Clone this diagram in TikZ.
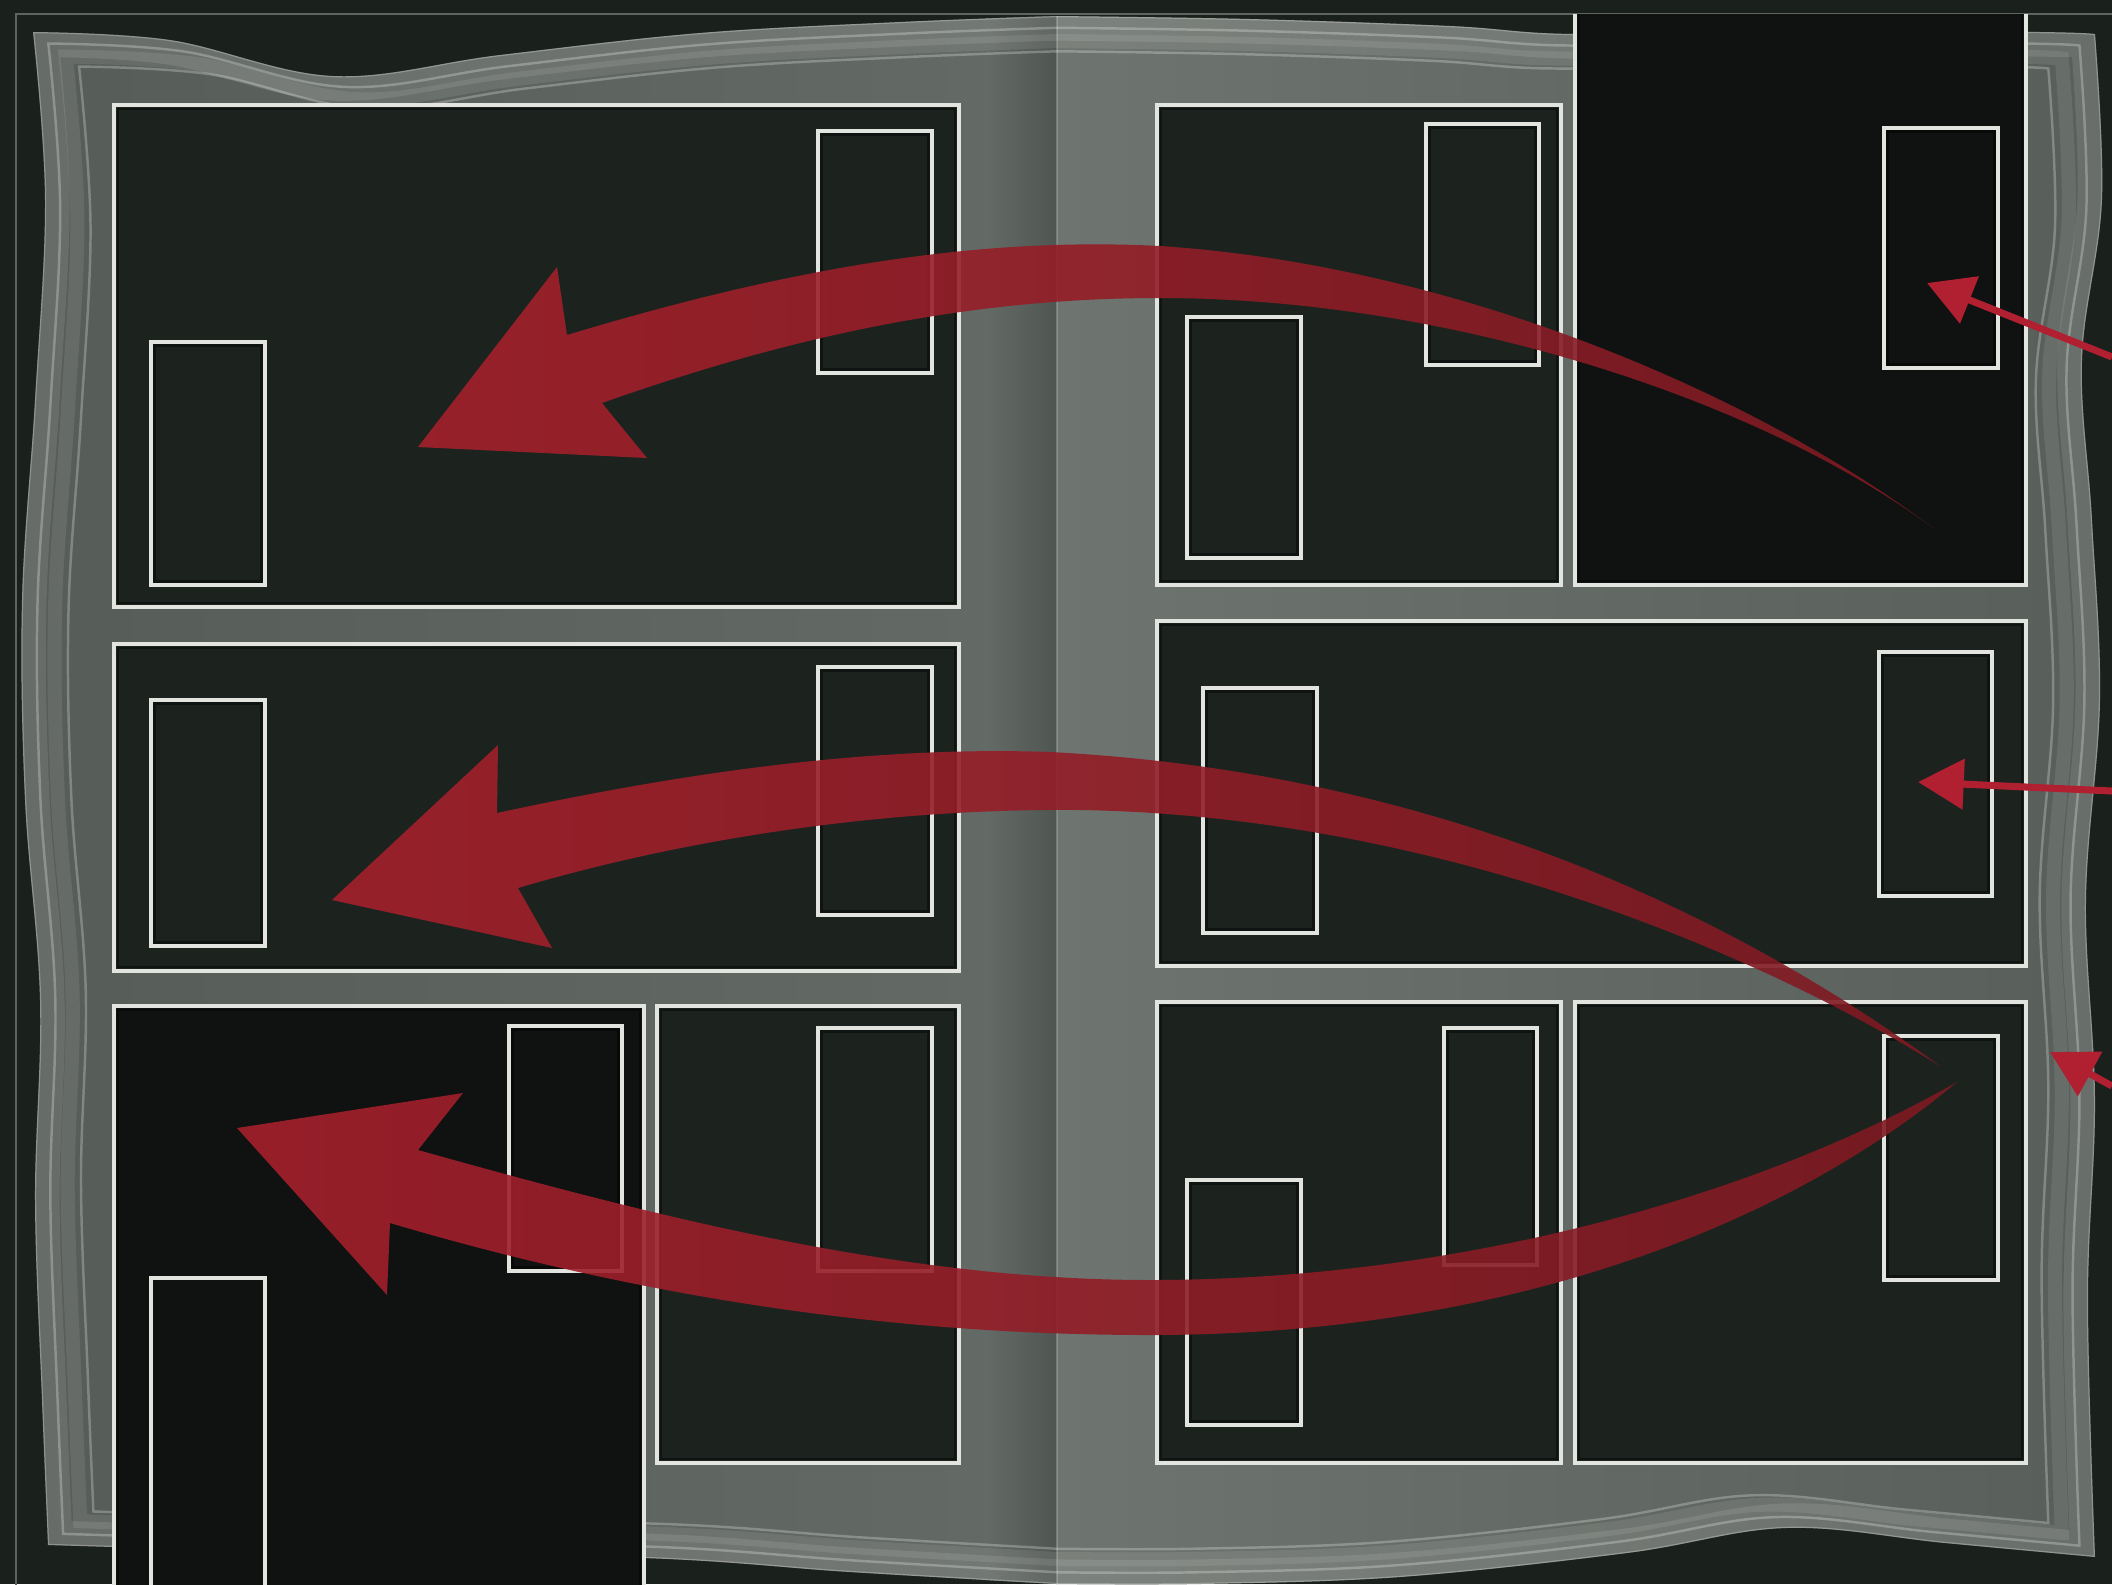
\documentclass[tikz,border=0pt]{standalone}
\usetikzlibrary{arrows.meta}
\definecolor{bg}{HTML}{1A201C}
\definecolor{panelfill}{HTML}{1C231F}
\definecolor{paneldark}{HTML}{0F1211}
\definecolor{panelline}{HTML}{E2E4E0}
\definecolor{pageA}{HTML}{565C58}
\definecolor{pageB}{HTML}{646A66}
\definecolor{pageC}{HTML}{6E746F}
\definecolor{pageD}{HTML}{585E5A}
\definecolor{spinedark}{HTML}{4F5551}
\definecolor{redhead}{HTML}{A5202C}
\definecolor{redtail}{HTML}{7E1A22}
\definecolor{redsmall}{HTML}{B02030}
\definecolor{framegrey}{HTML}{5E6460}

\def\LeftOutline{plot[smooth,tension=0.6] coordinates {(1057,16) (900,22) (700,33) (500,55) (333,76) (170,40) (33,32)} -- plot[smooth,tension=0.6] coordinates {(33,32) (45,200) (35,400) (22,600) (25,800) (40,1000) (35,1200) (42,1400) (48,1545)} -- plot[smooth,tension=0.6] coordinates {(48,1545) (300,1552) (644,1558) (850,1572) (1057,1584)}}
\def\RightOutline{plot[smooth,tension=0.6] coordinates {(1057,16) (1250,19) (1450,26) (1575,34) (1800,30) (2040,32) (2095,34)} -- plot[smooth,tension=0.6] coordinates {(2095,34) (2102,200) (2082,360) (2092,520) (2100,700) (2086,900) (2095,1100) (2088,1300) (2095,1557)} -- plot[smooth,tension=0.6] coordinates {(2095,1557) (1945,1543) (1786,1528) (1627,1553) (1400,1577) (1200,1584) (1057,1584)}}

\newcommand\mkpanel[5]{%
  \draw[#5] (#1,#2) rectangle (#3,#4);
  \draw[innershadow] (#1+4,#2+4) rectangle (#3-4,#4-4);}
\newcommand\mkinner[4]{%
  \draw[innerbox] (#1,#2) rectangle (#3,#4);
  \draw[innershadow] (#1+3.5,#2+3.5) rectangle (#3-3.5,#4-3.5);}

\begin{document}
\begin{tikzpicture}[x=0.01cm,y=-0.01cm,
  panelbox/.style={fill=panelfill, draw=panelline, line width=1.15pt},
  darkbox/.style={fill=paneldark},
  darkedge/.style={draw=panelline, line width=1.15pt},
  innerbox/.style={draw=panelline, line width=0.95pt},
  innershadow/.style={draw=black, opacity=0.45, line width=0.8pt},
  bigarrow/.style={left color=redhead, right color=redtail, fill opacity=0.9},
  smallarrow/.style={draw=redsmall, line width=2pt, -{Triangle[length=13pt,width=14pt]}},
  sheetline/.style={draw=white, line width=0.7pt, opacity=0.26},
  sheetband/.style={draw=white, line width=4pt, opacity=0.09},
]
\useasboundingbox (0,0) rectangle (2112,1584);
\clip (0,0) rectangle (2112,1584);
\fill[bg] (0,0) rectangle (2112,1584);
% outer frame line
\draw[framegrey, line width=0.6pt] (16,1590) -- (16,14) -- (2112,14);

% ---- pages ----
\shade[left color=pageA, right color=pageB] \LeftOutline -- cycle;
\shade[left color=pageC, right color=pageD] \RightOutline -- cycle;
\begin{scope}
  \clip \LeftOutline -- cycle;
  \shade[left color=pageB, right color=spinedark] (985,0) rectangle (1057,1584);
  \draw[white, opacity=0.10, line width=14pt] \LeftOutline;
  \draw[sheetline] \LeftOutline;
  \begin{scope}[shift={(1057,800)}, xscale=0.985, yscale=0.985, shift={(-1057,-800)}]
    \draw[sheetline] \LeftOutline;
  \end{scope}
  \begin{scope}[shift={(1057,800)}, xscale=0.968, yscale=0.968, shift={(-1057,-800)}]
    \draw[sheetband] \LeftOutline;
  \end{scope}
  \begin{scope}[shift={(1057,800)}, xscale=0.955, yscale=0.955, shift={(-1057,-800)}]
    \draw[sheetline] \LeftOutline;
  \end{scope}
\end{scope}
\begin{scope}
  \clip \RightOutline -- cycle;
  \draw[white, opacity=0.10, line width=14pt] \RightOutline;
  \draw[sheetline] \RightOutline;
  \begin{scope}[shift={(1057,800)}, xscale=0.985, yscale=0.985, shift={(-1057,-800)}]
    \draw[sheetline] \RightOutline;
  \end{scope}
  \begin{scope}[shift={(1057,800)}, xscale=0.968, yscale=0.968, shift={(-1057,-800)}]
    \draw[sheetband] \RightOutline;
  \end{scope}
  \begin{scope}[shift={(1057,800)}, xscale=0.955, yscale=0.955, shift={(-1057,-800)}]
    \draw[sheetline] \RightOutline;
  \end{scope}
\end{scope}
% spine
\draw[white, opacity=0.22, line width=0.5pt] (1057,16) -- (1057,1584);

% ---- left page panels ----
\mkpanel{114}{105}{959}{607}{panelbox}
\mkinner{151}{342}{265}{585}
\mkinner{818}{131}{932}{373}
\mkpanel{114}{644}{959}{971}{panelbox}
\mkinner{151}{700}{265}{946}
\mkinner{818}{667}{932}{915}
\fill[darkbox] (114,1006) rectangle (644,1600);
\draw[darkedge] (114,1600) -- (114,1006) -- (644,1006) -- (644,1600);
\draw[innershadow] (118,1600) -- (118,1010) -- (640,1010) -- (640,1600);
\mkinner{509}{1026}{622}{1271}
\draw[innerbox] (151,1600) -- (151,1278) -- (265,1278) -- (265,1600);
\mkpanel{657}{1006}{959}{1463}{panelbox}
\mkinner{818}{1028}{932}{1271}

% ---- right page panels ----
\mkpanel{1157}{105}{1561}{585}{panelbox}
\mkinner{1426}{124}{1539}{365}
\mkinner{1187}{317}{1301}{558}
\fill[darkbox] (1575,14) rectangle (2026,585);
\draw[darkedge] (1575,14) -- (1575,585) -- (2026,585) -- (2026,14);
\draw[innershadow] (1579,14) -- (1579,581) -- (2022,581) -- (2022,14);
\mkinner{1884}{128}{1998}{368}
\mkpanel{1157}{621}{2026}{966}{panelbox}
\mkinner{1203}{688}{1317}{933}
\mkinner{1879}{652}{1992}{896}
\mkpanel{1157}{1002}{1561}{1463}{panelbox}
\mkinner{1444}{1028}{1537}{1265}
\mkinner{1187}{1180}{1301}{1425}
\mkpanel{1575}{1002}{2026}{1463}{panelbox}
\mkinner{1884}{1036}{1998}{1280}

% ---- big reading-order arrows ----
\shade[bigarrow] (1933,528) .. controls (1750,390) and (1450,265) .. (1160,246)
  .. controls (950,235) and (750,280) .. (567,335)
  -- (557,267) -- (418,447) -- (647,458) -- (602,403)
  .. controls (780,340) and (960,298) .. (1160,298)
  .. controls (1450,298) and (1760,400) .. (1933,528) -- cycle;

\shade[bigarrow] (1940,1066) .. controls (1700,890) and (1400,770) .. (1050,752)
  .. controls (850,745) and (650,780) .. (497,813)
  -- (498,745) -- (332,900) -- (552,948) -- (518,888)
  .. controls (680,840) and (880,808) .. (1080,810)
  .. controls (1400,815) and (1720,930) .. (1940,1066) -- cycle;

\shade[bigarrow] (1957,1082) .. controls (1750,1200) and (1450,1280) .. (1150,1280)
  .. controls (900,1280) and (650,1215) .. (418,1150)
  -- (463,1093) -- (237,1128) -- (387,1295) -- (390,1223)
  .. controls (650,1300) and (900,1335) .. (1150,1335)
  .. controls (1500,1335) and (1780,1230) .. (1957,1082) -- cycle;

% ---- small entry arrows at the right edge ----
\coordinate (s1) at (2112,357);  \coordinate (t1) at (1927,283);
\coordinate (s2) at (2112,791);  \coordinate (t2) at (1918,782);
\coordinate (s3) at (2112,1086); \coordinate (t3) at (2050,1052);
\draw[smallarrow] (s1) -- (t1);
\draw[smallarrow] (s2) -- (t2);
\draw[smallarrow] (s3) -- (t3);
\end{tikzpicture}
\end{document}
